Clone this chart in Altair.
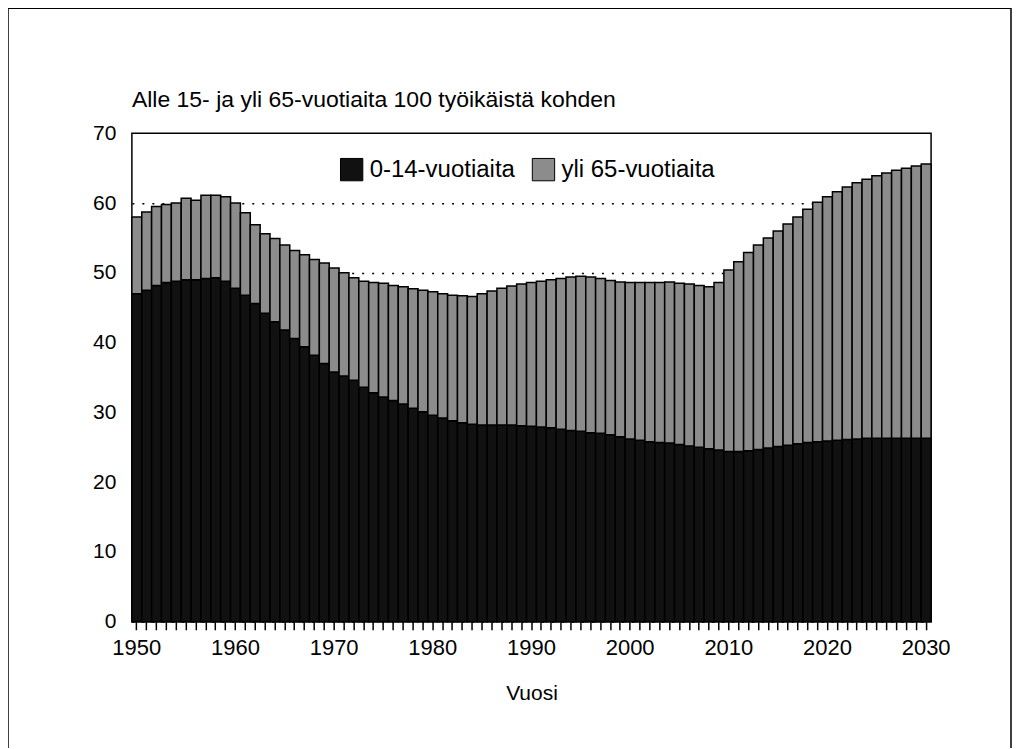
import altair as alt
import pandas as pd

years = list(range(1950, 2031))

series_names = ["0-14-vuotiaita", "yli 65-vuotiaita"]

age_0_14 = [
    47.0, 47.5, 48.2, 48.6, 48.8, 49.0, 49.0, 49.2, 49.3, 48.8,  # 1950-1959
    47.8, 46.8, 45.6, 44.2, 43.0, 41.8, 40.6, 39.4, 38.2, 37.0,  # 1960-1969
    35.8, 35.2, 34.6, 33.6, 32.8, 32.2, 31.7, 31.2, 30.6, 30.1,  # 1970-1979
    29.6, 29.2, 28.8, 28.5, 28.3, 28.2, 28.2, 28.2, 28.2, 28.1,  # 1980-1989
    28.0, 27.9, 27.8, 27.6, 27.4, 27.3, 27.1, 27.0, 26.8, 26.5,  # 1990-1999
    26.2, 26.0, 25.8, 25.7, 25.6, 25.4, 25.2, 25.0, 24.8, 24.6,  # 2000-2009
    24.4, 24.4, 24.5, 24.7, 24.9, 25.1, 25.3, 25.5, 25.7, 25.8,  # 2010-2019
    25.9, 26.0, 26.1, 26.2, 26.3, 26.3, 26.3, 26.3, 26.3, 26.3,  # 2020-2029
    26.3,                                                        # 2030
]

age_65_plus = [
    11.0, 11.2, 11.3, 11.2, 11.2, 11.7, 11.4, 11.9, 11.8, 12.1,  # 1950-1959
    12.2, 11.8, 11.3, 11.4, 11.9, 12.2, 12.6, 13.2, 13.7, 14.4,  # 1960-1969
    14.9, 14.8, 14.7, 15.2, 15.8, 16.3, 16.5, 16.8, 17.1, 17.4,  # 1970-1979
    17.7, 17.8, 18.0, 18.2, 18.3, 18.8, 19.2, 19.6, 19.9, 20.3,  # 1980-1989
    20.6, 20.9, 21.2, 21.6, 22.0, 22.2, 22.3, 22.2, 22.1, 22.2,  # 1990-1999
    22.4, 22.6, 22.8, 22.9, 23.1, 23.1, 23.2, 23.2, 23.2, 24.0,  # 2000-2009
    26.0, 27.2, 28.4, 29.3, 30.1, 30.9, 31.7, 32.5, 33.4, 34.3,  # 2010-2019
    35.0, 35.6, 36.2, 36.7, 37.1, 37.6, 38.0, 38.4, 38.7, 39.0,  # 2020-2029
    39.3,                                                        # 2030
]

y_ticks = [0, 10, 20, 30, 40, 50, 60, 70]
title_text = "Alle 15- ja yli 65-vuotiaita 100 työikäistä kohden"
x_title = "Vuosi"

rows = []
for yr, a, b in zip(years, age_0_14, age_65_plus):
    rows.append({"year": yr, "group": series_names[0], "value": a, "order": 0})
    rows.append({"year": yr, "group": series_names[1], "value": b, "order": 1})
df = pd.DataFrame(rows)

FONT = "Liberation Sans"

bars = alt.Chart(df).mark_bar(stroke="black", strokeWidth=1.5).encode(
    x=alt.X(
        "year:O",
        title=x_title,
        scale=alt.Scale(paddingInner=0, paddingOuter=0),
        axis=alt.Axis(
            labelExpr="datum.value % 10 == 0 ? datum.label : ''",
            labelAngle=0,
            labelOverlap=False,
            labelFontSize=22,
            labelPadding=8,
            tickSize=8,
            tickWidth=1.5,
            tickColor="black",
            domain=False,
            titleFontSize=21,
            titleFontWeight="normal",
            titlePadding=24,
        ),
    ),
    y=alt.Y(
        "value:Q",
        stack="zero",
        title=None,
        scale=alt.Scale(domain=[0, 70], nice=False),
        axis=alt.Axis(
            values=y_ticks,
            labelFontSize=21,
            labelPadding=16,
            ticks=False,
            domain=False,
            grid=True,
            gridDash=[2, 8],
            gridColor="black",
            gridWidth=1.5,
            gridOpacity={"condition": {"test": "datum.value >= 70", "value": 0}, "value": 1},
        ),
    ),
    color=alt.Color(
        "group:N",
        scale=alt.Scale(domain=series_names, range=["#111111", "#8c8c8c"]),
        legend=alt.Legend(
            title=None,
            orient="none",
            legendX=208,
            legendY=24,
            direction="horizontal",
            symbolType="square",
            symbolSize=500,
            symbolStrokeColor="black",
            symbolStrokeWidth=1,
            symbolOpacity=1,
            labelFontSize=24,
            labelFont=FONT,
            labelColor="black",
            labelLimit=300,
            labelOffset=6,
            columnPadding=14,
        ),
    ),
    order=alt.Order("order:Q", sort="ascending"),
)

frame = alt.Chart(pd.DataFrame({"k": [0]})).mark_rect(
    fill="transparent", stroke="black", strokeWidth=1.5
).encode(
    x=alt.value(-124),
    x2=alt.value(880),
    y=alt.value(-125),
    y2=alt.value(640),
)

title = alt.Chart(pd.DataFrame({"t": [title_text]})).mark_text(
    align="left", baseline="alphabetic", fontSize=23, font=FONT, color="black"
).encode(
    text="t:N",
    x=alt.value(0),
    y=alt.value(-26),
)

chart = alt.layer(frame, bars, title).properties(
    width=800,
    height=489,
    autosize=alt.AutoSizeParams(type="none"),
    padding={"left": 124, "top": 125, "right": 82, "bottom": 126},
    background="white",
).configure_view(
    stroke="black", strokeWidth=1.5
).configure_axis(
    labelFont=FONT, titleFont=FONT, labelColor="black", titleColor="black"
)

chart.save("out.html", embed_options={"renderer": "svg", "actions": False})
